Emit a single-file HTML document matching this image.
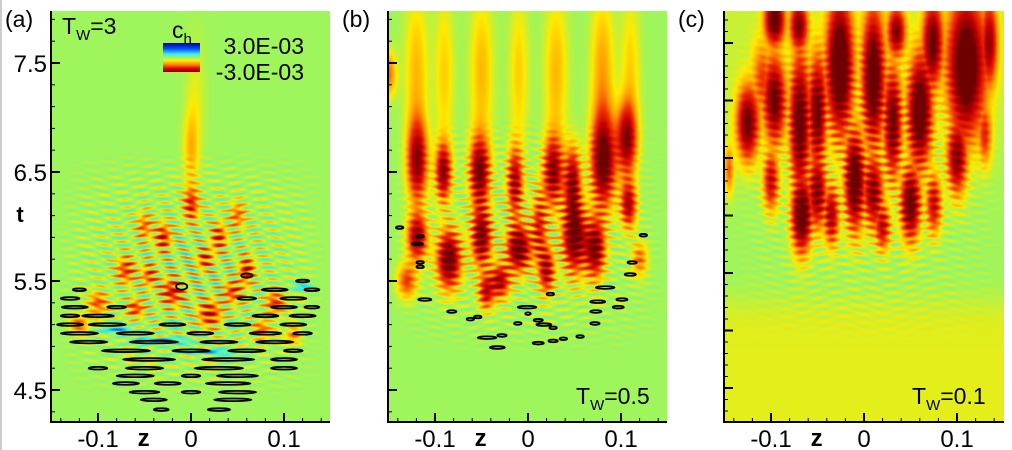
<!DOCTYPE html>
<html><head><meta charset="utf-8"><style>
html,body{margin:0;padding:0;background:#fff;}
#root{position:relative;width:1012px;height:450px;overflow:hidden;background:#fff;font-family:"Liberation Sans",sans-serif;}
canvas{position:absolute;}
svg{position:absolute;left:0;top:0;}
</style></head><body>
<div id="root">
<canvas id="ca" width="279" height="411" style="left:51px;top:11px"></canvas>
<canvas id="cb" width="279" height="411" style="left:388px;top:11px"></canvas>
<canvas id="cc" width="280" height="411" style="left:724px;top:11px"></canvas>
<svg id="ov" width="1012" height="450"></svg>
</div>
<script>
// ---- data ----
// blobs: [z, t, sigmaZ, sigmaT, amplitude]  (negative = red, positive = blue)
const blobsA = [[0.0,6.2,0.008,0.15,-0.55],[-0.03,5.9,0.008,0.12,-0.6],[0.03,5.9,0.008,0.12,-0.55],[-0.07,5.6,0.01,0.12,-0.5],[0.06,5.6,0.008,0.12,-0.6],[-0.1,5.3,0.01,0.1,-0.45],[0.09,5.3,0.01,0.1,-0.5],[-0.02,5.4,0.012,0.12,-0.6],[0.02,5.2,0.012,0.12,-0.6],[0.0,6.7,0.008,0.35,-0.25],[-0.05,6.0,0.008,0.12,-0.4],[0.05,6.1,0.008,0.12,-0.4],[-0.12,5.1,0.01,0.08,-0.4],[0.11,5.0,0.008,0.08,-0.35],[-0.06,5.25,0.01,0.08,-0.5],[0.045,5.4,0.01,0.1,-0.5],[-0.045,5.55,0.008,0.1,-0.45],[0.015,5.7,0.008,0.1,-0.5],[0.075,5.05,0.01,0.08,-0.45],[-0.03,4.95,0.03,0.025,0.6],[0.02,4.85,0.03,0.025,0.5],[-0.08,5.05,0.02,0.025,0.45],[0.12,5.45,0.01,0.04,0.4],[0.005,7.2,0.01,0.5,-0.1]];
const blobsB = [[-0.119,6.6,0.01,0.35,-0.9],[-0.119,5.9,0.01,0.2,-0.9],[-0.091,6.5,0.008,0.25,-0.9],[-0.085,5.7,0.012,0.25,-1.1],[-0.052,6.5,0.01,0.3,-1.0],[-0.05,5.9,0.01,0.25,-1.0],[-0.045,5.4,0.008,0.15,-0.7],[-0.014,6.4,0.008,0.3,-0.8],[-0.01,5.8,0.012,0.2,-1.1],[-0.03,5.5,0.01,0.15,-0.8],[0.012,6.0,0.008,0.3,-0.6],[0.027,6.5,0.01,0.3,-0.9],[0.02,5.6,0.008,0.2,-0.8],[0.048,6.4,0.008,0.3,-0.9],[0.05,5.9,0.012,0.3,-1.1],[0.081,6.6,0.012,0.4,-1.1],[0.072,5.8,0.01,0.25,-1.0],[0.106,6.8,0.01,0.3,-0.9],[0.108,6.2,0.008,0.2,-0.8],[-0.13,5.5,0.01,0.15,-0.5],[0.12,5.7,0.008,0.15,-0.4],
 [-0.12,7.4,0.012,0.7,-0.25],[-0.09,7.4,0.01,0.7,-0.2],[-0.05,7.4,0.012,0.7,-0.25],[-0.01,7.4,0.01,0.7,-0.2],[0.03,7.4,0.012,0.7,-0.25],[0.08,7.4,0.012,0.7,-0.3],[0.11,7.4,0.01,0.7,-0.2],[-0.15,7.4,0.008,0.2,-0.4]];
const blobsC = [[-0.125,7.3,0.011,0.3,-1.0],[-0.096,8.2,0.01,0.2,-1.1],[-0.096,7.5,0.011,0.35,-1.0],[-0.069,7.3,0.01,0.55,-1.1],[-0.067,6.5,0.01,0.3,-1.2],[-0.05,7.4,0.009,0.45,-1.0],[-0.05,6.7,0.009,0.3,-0.9],[-0.026,7.8,0.013,0.55,-1.3],[-0.01,6.8,0.01,0.4,-1.2],[0.01,7.7,0.011,0.55,-1.2],[0.01,6.7,0.01,0.3,-0.9],[0.031,7.3,0.009,0.45,-1.0],[0.06,7.4,0.012,0.45,-1.2],[0.05,6.6,0.01,0.3,-1.1],[0.074,8.0,0.01,0.35,-1.0],[0.11,7.8,0.018,0.55,-1.3],[0.1,7.0,0.01,0.3,-0.9],[0.135,8.0,0.008,0.35,-0.8],[-0.145,6.9,0.005,0.2,-0.4],
 [-0.07,8.15,0.009,0.2,-0.9],[0.035,8.1,0.009,0.2,-0.9],[0.02,6.4,0.008,0.2,-0.7],[-0.035,6.5,0.008,0.25,-0.8],[0.075,6.6,0.008,0.25,-0.7],[-0.1,6.8,0.008,0.25,-0.7],[0.13,7.2,0.007,0.25,-0.5],[-0.11,7.7,0.01,0.3,-0.4]];
// contours: [z, t, halfWidthZ, halfHeightT]
const contA = [[-0.032,4.32,0.008,0.01],[0.03,4.32,0.012,0.01],[-0.04,4.41,0.014,0.01],[0.045,4.41,0.02,0.01],[-0.05,4.48,0.016,0.01],[0.0,4.48,0.01,0.01],[0.05,4.48,0.02,0.01],[-0.07,4.56,0.014,0.01],[-0.025,4.56,0.014,0.01],[0.04,4.56,0.024,0.01],[-0.06,4.63,0.02,0.01],[0.0,4.63,0.01,0.01],[0.05,4.63,0.022,0.01],[-0.1,4.7,0.01,0.01],[-0.05,4.7,0.02,0.01],[0.03,4.7,0.026,0.01],[0.1,4.7,0.014,0.01],[-0.045,4.78,0.028,0.012],[0.04,4.78,0.028,0.012],[0.1,4.78,0.014,0.01],[-0.07,4.86,0.026,0.012],[0.0,4.86,0.02,0.01],[0.06,4.86,0.02,0.01],[0.11,4.86,0.01,0.01],[-0.11,4.94,0.02,0.01],[-0.04,4.94,0.026,0.012],[0.03,4.94,0.02,0.01],[0.09,4.94,0.02,0.01],[-0.12,5.02,0.02,0.01],[-0.06,5.02,0.02,0.01],[0.01,5.02,0.014,0.01],[0.08,5.02,0.017,0.01],[0.12,5.02,0.01,0.01],[-0.13,5.1,0.014,0.01],[-0.09,5.1,0.02,0.01],[-0.02,5.1,0.014,0.01],[0.05,5.1,0.014,0.01],[0.11,5.1,0.014,0.01],[-0.13,5.18,0.01,0.01],[-0.1,5.18,0.017,0.01],[0.08,5.18,0.014,0.01],[0.12,5.18,0.014,0.01],[-0.125,5.26,0.014,0.01],[-0.08,5.26,0.01,0.01],[0.1,5.26,0.014,0.01],[0.13,5.26,0.008,0.01],[-0.13,5.34,0.01,0.01],[0.11,5.34,0.014,0.01],[0.06,5.34,0.01,0.01],[-0.12,5.42,0.007,0.01],[0.09,5.42,0.014,0.01],[0.13,5.42,0.008,0.01],[0.12,5.5,0.007,0.01],[0.06,5.55,0.006,0.02],[-0.01,5.45,0.006,0.03]];
const contB = [[-0.138,5.99,0.004,0.006],[-0.116,5.91,0.004,0.008],[-0.119,5.84,0.006,0.01],[-0.116,5.67,0.004,0.006],[-0.116,5.63,0.004,0.006],[-0.111,5.33,0.007,0.006],[-0.082,5.22,0.005,0.006],[-0.062,5.15,0.004,0.006],[-0.054,5.17,0.004,0.006],[-0.044,4.98,0.01,0.01],[-0.033,4.89,0.008,0.006],[-0.028,5.0,0.005,0.006],[-0.011,5.11,0.004,0.006],[-0.001,5.26,0.01,0.006],[0.011,5.14,0.005,0.006],[0.017,5.1,0.008,0.006],[0.027,5.07,0.004,0.006],[0.011,4.93,0.006,0.01],[0.027,4.95,0.005,0.006],[0.038,4.97,0.004,0.006],[0.056,4.99,0.004,0.006],[0.072,5.11,0.005,0.006],[0.073,5.22,0.006,0.006],[0.075,5.31,0.008,0.006],[0.083,5.44,0.01,0.008],[0.097,5.26,0.006,0.006],[0.101,5.33,0.006,0.006],[0.11,5.56,0.006,0.006],[0.112,5.67,0.005,0.006],[0.124,5.92,0.004,0.006],[0.024,5.38,0.004,0.006],[0.0,5.2,0.003,0.006]];
const xTicks = [-0.1, 0, 0.1];
const xTickLabels = ["-0.1", "0", "0.1"];
const yTicksAB = [4.5, 5.5, 6.5, 7.5];
const yTickLabels = ["4.5", "5.5", "6.5", "7.5"];

// ---- panels / scales ----
const panels = [
 {id:'ca', L:51, R:330, T:11, B:422, z0:191, zs:930, tRef:7.5, tRefY:63, ts:109, blobs:blobsA, cont:contA, band:0.45, useMax:false, bgFn:(z,t)=>0, region:[4.4,6.7,0.145]},
 {id:'cb', L:388, R:667, T:11, B:422, z0:528, zs:930, tRef:7.5, tRefY:63, ts:109, blobs:blobsB, cont:contB, band:0.3, useMax:false, bgFn:(z,t)=>0, region:[4.8,7.0,0.15]},
 {id:'cc', L:724, R:1004, T:11, B:422, z0:864, zs:930, tRef:8.0, tRefY:43, ts:115, blobs:blobsC, cont:[], band:0.2, useMax:true, bgFn:(z,t)=>{const s=1/(1+Math.exp((t-5.75)*12));return -0.1*s-0.06*(1-s)/(1+Math.exp(-(t-7)*4));}, region:[5.4,8.3,0.15]}
];
function xOf(p,z){return p.z0+z*p.zs;}
function yOf(p,t){return p.tRefY-(t-p.tRef)*p.ts;}
function zAt(p,x){return (x-p.z0)/p.zs;}
function tAt(p,y){return p.tRef-(y-p.tRefY)/p.ts;}

const stops=[[-1,[110,0,0]],[-0.72,[200,0,0]],[-0.5,[240,50,0]],[-0.3,[255,160,0]],[-0.14,[255,235,0]],[0,[158,245,92]],[0.3,[60,240,220]],[0.6,[0,120,255]],[1,[0,0,150]]];
function cmap(v){v=Math.max(-1,Math.min(1,v));for(let i=0;i<stops.length-1;i++){const a=stops[i],b=stops[i+1];if(v<=b[0]){const f=(v-a[0])/(b[0]-a[0]);return [0,1,2].map(k=>Math.round(a[1][k]+(b[1][k]-a[1][k])*f));}}return stops[stops.length-1][1];}

panels.forEach(p=>{
 const cv=document.getElementById(p.id),ctx=cv.getContext('2d');
 const W=cv.width,H=cv.height,img=ctx.createImageData(W,H);
 const [r0,r1,rz]=p.region;
 for(let j=0;j<H;j++){const t=tAt(p,p.T+j+0.5);
  for(let i=0;i<W;i++){const z=zAt(p,p.L+i+0.5);
   let v=p.bgFn(z,t),neg=0,pos=0,sum=0;
   for(const b of p.blobs){const dz=(z-b[0])/b[2],dt=(t-b[1])/b[3];const e=dz*dz+dt*dt;if(e<12){const c=b[4]*Math.exp(-e);sum+=c;if(c<neg)neg=c;if(c>pos)pos=c;}}
   v+=p.useMax?(neg+pos+0.25*(sum-neg-pos)):sum;
   const mz=z/rz, mt=(t-r0)/(r1-r0);
   if(mt>0&&mt<1&&Math.abs(mz)<1){const m=Math.sin(Math.PI*mt)*(1-mz*mz);
     v+=p.band*m*Math.sin(t*90+Math.sin(z*60)*2)*Math.sin(z*150+t*7);}
   const c=cmap(v),k=(j*W+i)*4;img.data[k]=c[0];img.data[k+1]=c[1];img.data[k+2]=c[2];img.data[k+3]=255;}}
 ctx.putImageData(img,0,0);
});

// ---- overlay ----
const ov=document.getElementById('ov'),NS='http://www.w3.org/2000/svg';
function mk(tag,attrs,parent){const e=document.createElementNS(NS,tag);for(const k in attrs)e.setAttribute(k,attrs[k]);(parent||ov).appendChild(e);return e;}
function txt(x,y,s,size,anchor,weight){const e=mk('text',{x:x,y:y,'font-size':size,'text-anchor':anchor||'start','font-family':'Liberation Sans, sans-serif','font-weight':weight||'normal',fill:'#000'});e.textContent=s;return e;}

panels.forEach((p,pi)=>{
 const g=mk('g',{});
 
 
 p.cont.forEach(c=>{
  const e=mk('ellipse',{cx:xOf(p,c[0]),cy:yOf(p,c[1]),rx:c[2]*p.zs,ry:Math.max(1.3,c[3]*p.ts),fill:'none',stroke:'#000','stroke-width':1.8},g);
  
  
 });
 const ax=mk('g',{});
 
 
 mk('line',{x1:p.L,y1:p.T,x2:p.L,y2:p.B+1,stroke:'#000','stroke-width':2},ax);
 mk('line',{x1:p.L-1,y1:p.B,x2:p.R,y2:p.B,stroke:'#000','stroke-width':2},ax);
 for(let k=-7;k<=7;k++){const z=k*0.02,x=xOf(p,z);if(x<p.L+2||x>p.R)continue;const major=(k%5===0);
  mk('line',{x1:x,y1:p.B,x2:x,y2:p.B-(major?9:4),stroke:'#000','stroke-width':major?2:1},ax);}
 xTicks.forEach((z,i)=>txt(xOf(p,z),447,xTickLabels[i],24,'middle'));
 txt(xOf(p,-0.051),446,'z',24,'middle','bold');
 const minor=pi<2?0.2:0.1,per=5;
 for(let k=-10;k<=40;k++){const t=p.tRef-k*minor,y=yOf(p,t);if(y<p.T+2||y>p.B-2)continue;const major=(((k%per)+per)%per===0);
  mk('line',{x1:p.L,y1:y,x2:p.L+(major?9:4),y2:y,stroke:'#000','stroke-width':major?2:1},ax);}
 txt(p.L-46,27,'('+'abc'[pi]+')',23,'start');
});
const pa=panels[0];
yTicksAB.forEach((t,i)=>txt(47,yOf(pa,t)+9,yTickLabels[i],24,'end'));
txt(20,222,'t',22,'middle','bold');
function tw(x,y,val){const e=txt(x,y,'T',23,'start');const s=mk('tspan',{'font-size':15,dy:6},e);s.textContent='W';const s2=mk('tspan',{dy:-6},e);s2.textContent='='+val;return e;}
tw(62,34,'3'); tw(576,404,'0.5'); tw(912,404,'0.1');
const defs=mk('defs',{});const lg=mk('linearGradient',{id:'cbg',x1:0,y1:0,x2:0,y2:1},defs);
[[0,'#00009a'],[0.2,'#0050ff'],[0.38,'#40e8ff'],[0.5,'#9ef55c'],[0.6,'#ffee00'],[0.75,'#ff8000'],[0.88,'#e00000'],[1,'#800000']].forEach(s=>mk('stop',{offset:s[0],'stop-color':s[1]},lg));
const cb=mk('rect',{x:163,y:43,width:37,height:29,fill:'url(#cbg)'});


const ch=txt(172,38,'c',23,'start');const chs=mk('tspan',{'font-size':15,dy:6},ch);chs.textContent='h';
txt(304,54,'3.0E-03',23,'end');
txt(304,80,'-3.0E-03',23,'end');
mk('line',{x1:1,y1:0,x2:1,y2:450,stroke:'#ccc','stroke-width':2});
</script>
</body></html>
